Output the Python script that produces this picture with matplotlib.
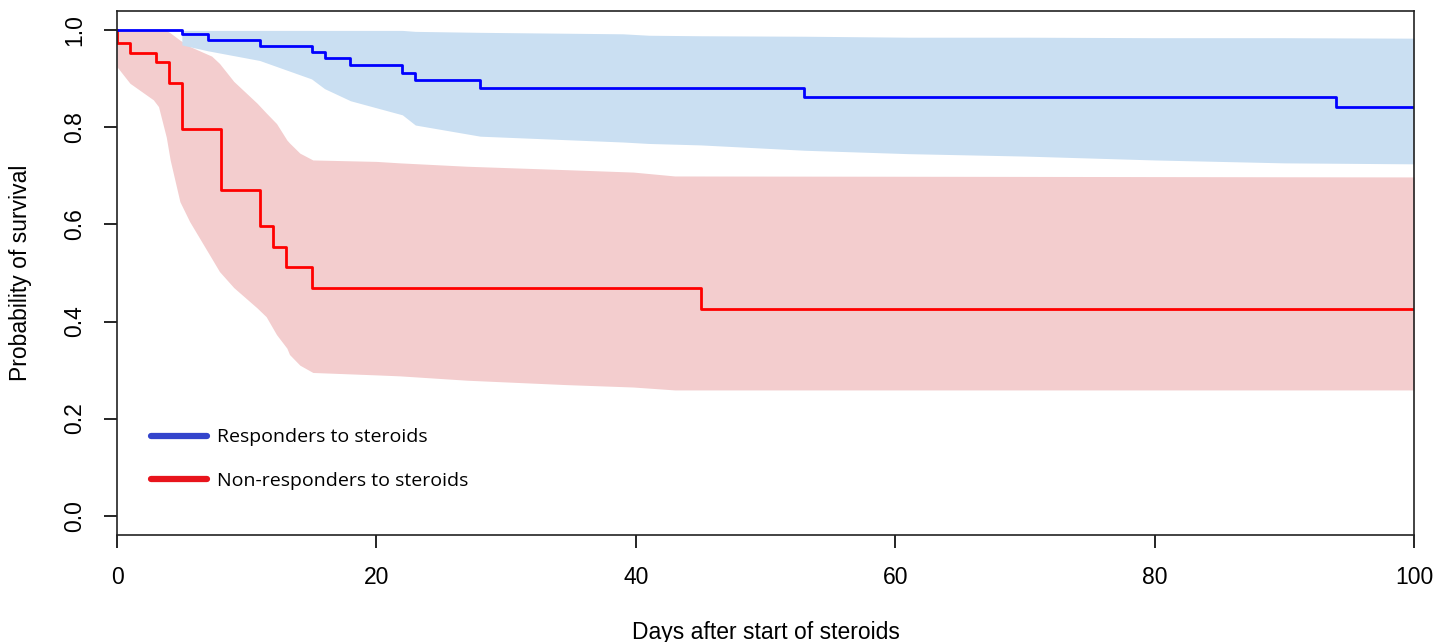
import matplotlib
matplotlib.use("Agg")
import matplotlib.pyplot as plt
from matplotlib.lines import Line2D

# Kaplan-Meier step curves
resp_days = [0, 5, 7, 11, 15, 16, 18, 22, 23, 28, 53, 94, 100]
resp_surv = [1.0, 0.993, 0.980, 0.968, 0.956, 0.943, 0.929, 0.913, 0.898, 0.882, 0.863, 0.843, 0.843]

nonresp_days = [0, 0, 1, 3, 4, 5, 8, 11, 12, 13, 15, 45, 100]
nonresp_surv = [1.0, 0.974, 0.954, 0.934, 0.891, 0.796, 0.672, 0.596, 0.554, 0.513, 0.469, 0.425, 0.425]

# confidence bands
resp_ci_days = [5, 7, 11, 15, 16, 18, 22, 23, 28, 39, 41, 45, 53, 61, 70, 80, 90, 100]
resp_ci_low = [0.970, 0.958, 0.938, 0.900, 0.880, 0.855, 0.826, 0.805, 0.782, 0.770, 0.767,
               0.764, 0.753, 0.746, 0.741, 0.733, 0.727, 0.725]
resp_ci_high = [1.0, 1.0, 1.0, 1.0, 1.0, 1.0, 1.0, 0.998, 0.996, 0.993, 0.990,
                0.989, 0.988, 0.986, 0.986, 0.985, 0.985, 0.984]

nonresp_ci_days = [0, 1, 2.8, 3.2, 3.8, 4.1, 4.85, 5.6, 7.3, 7.9, 9, 10.8, 11.5, 12.3, 13.1,
                   13.3, 14.1, 15.1, 20, 21.8, 27, 34.6, 39.8, 43, 100]
nonresp_ci_low = [0.925, 0.891, 0.857, 0.843, 0.78, 0.733, 0.647, 0.606, 0.53, 0.503, 0.47,
                  0.428, 0.41, 0.373, 0.345, 0.332, 0.31, 0.295, 0.29, 0.288, 0.279, 0.27,
                  0.265, 0.259, 0.259]
nonresp_ci_high = [1.0, 1.0, 1.0, 1.0, 1.0, 0.995, 0.98, 0.967, 0.947, 0.932, 0.895, 0.85,
                   0.83, 0.808, 0.774, 0.768, 0.747, 0.733, 0.730, 0.727, 0.72, 0.713,
                   0.708, 0.700, 0.698]

labels = ["Responders to steroids", "Non-responders to steroids"]
xticks = [0, 20, 40, 60, 80, 100]
yticks = [0.0, 0.2, 0.4, 0.6, 0.8, 1.0]

plt.rcParams["font.family"] = ["Liberation Sans", "DejaVu Sans"]

fig = plt.figure(figsize=(14.36, 6.42), dpi=100)
ax = fig.add_axes([117 / 1436, 1 - 535 / 642, 1297 / 1436, 524 / 642])

ax.fill_between(nonresp_ci_days, nonresp_ci_low, nonresp_ci_high, color="#f3cdce", lw=0)
ax.fill_between(resp_ci_days, resp_ci_low, resp_ci_high, color="#cadff2", lw=0)

ax.plot(nonresp_days, nonresp_surv, drawstyle="steps-post", color="#ff0000", lw=2)
ax.plot(resp_days, resp_surv, drawstyle="steps-post", color="#0000ff", lw=2)

ax.set_xlim(0, 100)
ax.set_ylim(-0.04, 1.04)
ax.set_xticks(xticks)
ax.set_xticklabels([str(t) for t in xticks])
ax.set_yticks(yticks)
ax.set_yticklabels([f"{t:.1f}" for t in yticks], rotation=90, va="center")
ax.tick_params(direction="out", length=9.4, width=1.2, labelsize=16.5, pad=13)
for s in ax.spines.values():
    s.set_linewidth(1.2)
    s.set_color("#222222")

ax.set_xlabel("Days after start of steroids", fontsize=16.5, labelpad=23)
ax.set_ylabel("Probability of survival", fontsize=16.5, labelpad=22)

handles = [Line2D([], [], color="#3344cc", lw=4.5, solid_capstyle="round"),
           Line2D([], [], color="#e8141c", lw=4.5, solid_capstyle="round")]
leg = ax.legend(handles, labels, loc="center left", bbox_to_anchor=(0.026, 0.145),
                frameon=False, borderpad=0, borderaxespad=0, handlelength=2.9,
                handletextpad=0.5, labelspacing=1.3,
                prop={"family": ["Open Sans", "DejaVu Sans"], "size": 14})

fig.savefig("out.png", dpi=100)
